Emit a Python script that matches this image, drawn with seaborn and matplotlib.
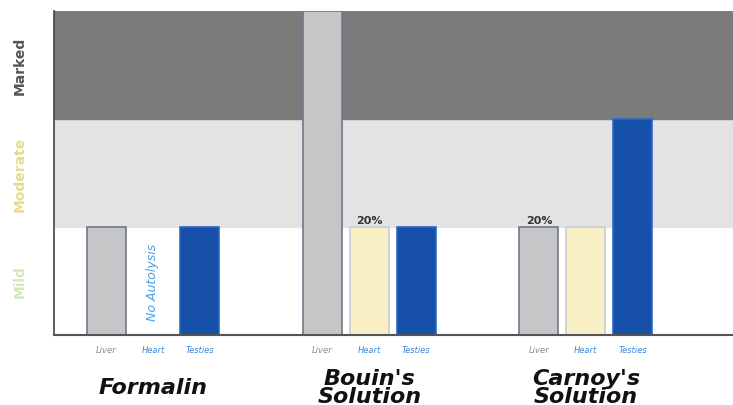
import pandas as pd
import matplotlib.pyplot as plt
import seaborn as sns

# Autolysis score per fixative and organ (0 = none, 1 = mild, 2 = moderate, 3 = marked)
fixatives = ["Formalin", "Bouin's\nSolution", "Carnoy's\nSolution"]
organs = ["Liver", "Heart", "Testies"]
formalin = [1, 0, 1]
bouin = [3, 1, 1]
carnoy = [1, 1, 2]
levels = ["Mild", "Moderate", "Marked"]

rows = []
for fix, vals in zip(fixatives, [formalin, bouin, carnoy]):
    for organ, v in zip(organs, vals):
        rows.append({"Fixative": fix, "Organ": organ, "Score": v})
df = pd.DataFrame(rows)

sns.set_style("white")
fig = plt.figure(figsize=(7.33, 4.06), dpi=100)
ax = fig.add_axes([0.0737, 0.1724, 0.9263, 0.798])

# background bands for severity
ax.axhspan(0, 1, color="white", zorder=0)
ax.axhspan(1, 2, color="#e3e3e3", zorder=0)
ax.axhspan(2, 3, color="#7b7b7b", zorder=0)

palette = {"Liver": "#c6c6c8", "Heart": "#f9f0c6", "Testies": "#1650a8"}
edges = {"Liver": "#6e7a8a", "Heart": "#c8ccd4", "Testies": "#2a68c8"}
sns.barplot(data=df, x="Fixative", y="Score", hue="Organ", order=fixatives,
            hue_order=organs, palette=palette, saturation=1, width=0.65,
            gap=0.17, legend=False, ax=ax, zorder=2)

label_colors = {"Liver": "#8a8a8a", "Heart": "#3a86d8", "Testies": "#3a86d8"}
for organ, cont in zip(organs, ax.containers):
    for bar in cont:
        bar.set_edgecolor(edges[organ])
        bar.set_linewidth(1.2)
        cx = bar.get_x() + bar.get_width() / 2
        ax.text(cx, -0.13, organ, ha="center", va="center", fontsize=6,
                style="italic", color=label_colors[organ])

# annotations
hb = ax.containers[1][0]
ax.text(hb.get_x() + hb.get_width() / 2, 0.5, "No Autolysis", rotation=90,
        ha="center", va="center", fontsize=9, style="italic", color="#4aa0e8")
for bar in [ax.containers[1][1], ax.containers[0][2]]:
    ax.text(bar.get_x() + bar.get_width() / 2, bar.get_height() + 0.02, "20%",
            ha="center", va="bottom", fontsize=8, fontweight="bold", color="#333333")

# group labels
for i, fix in enumerate(fixatives):
    ax.text(i, -0.48, fix, ha="center", va="center", fontsize=16,
            fontweight="bold", style="italic", color="#111111", linespacing=0.9)

# severity labels on the left
level_colors = ["#d4e8b8", "#e6dc8c", "#555555"]
for i, (lvl, c) in enumerate(zip(levels, level_colors)):
    ax.text(-0.05, i + 0.5, lvl, transform=ax.get_yaxis_transform(),
            rotation=90, ha="center", va="center", fontsize=10,
            fontweight="bold", color=c)

ax.set_ylim(0, 3)
ax.set_xlim(-0.457, 2.68)
ax.set_xticks([])
ax.set_yticks([])
ax.set_xlabel("")
ax.set_ylabel("")
for s in ["top", "right"]:
    ax.spines[s].set_visible(False)
ax.spines["left"].set_color("#444444")
ax.spines["left"].set_linewidth(1.2)
ax.spines["bottom"].set_color("#555555")
ax.spines["bottom"].set_linewidth(1.5)

fig.savefig("out.png", dpi=100)
